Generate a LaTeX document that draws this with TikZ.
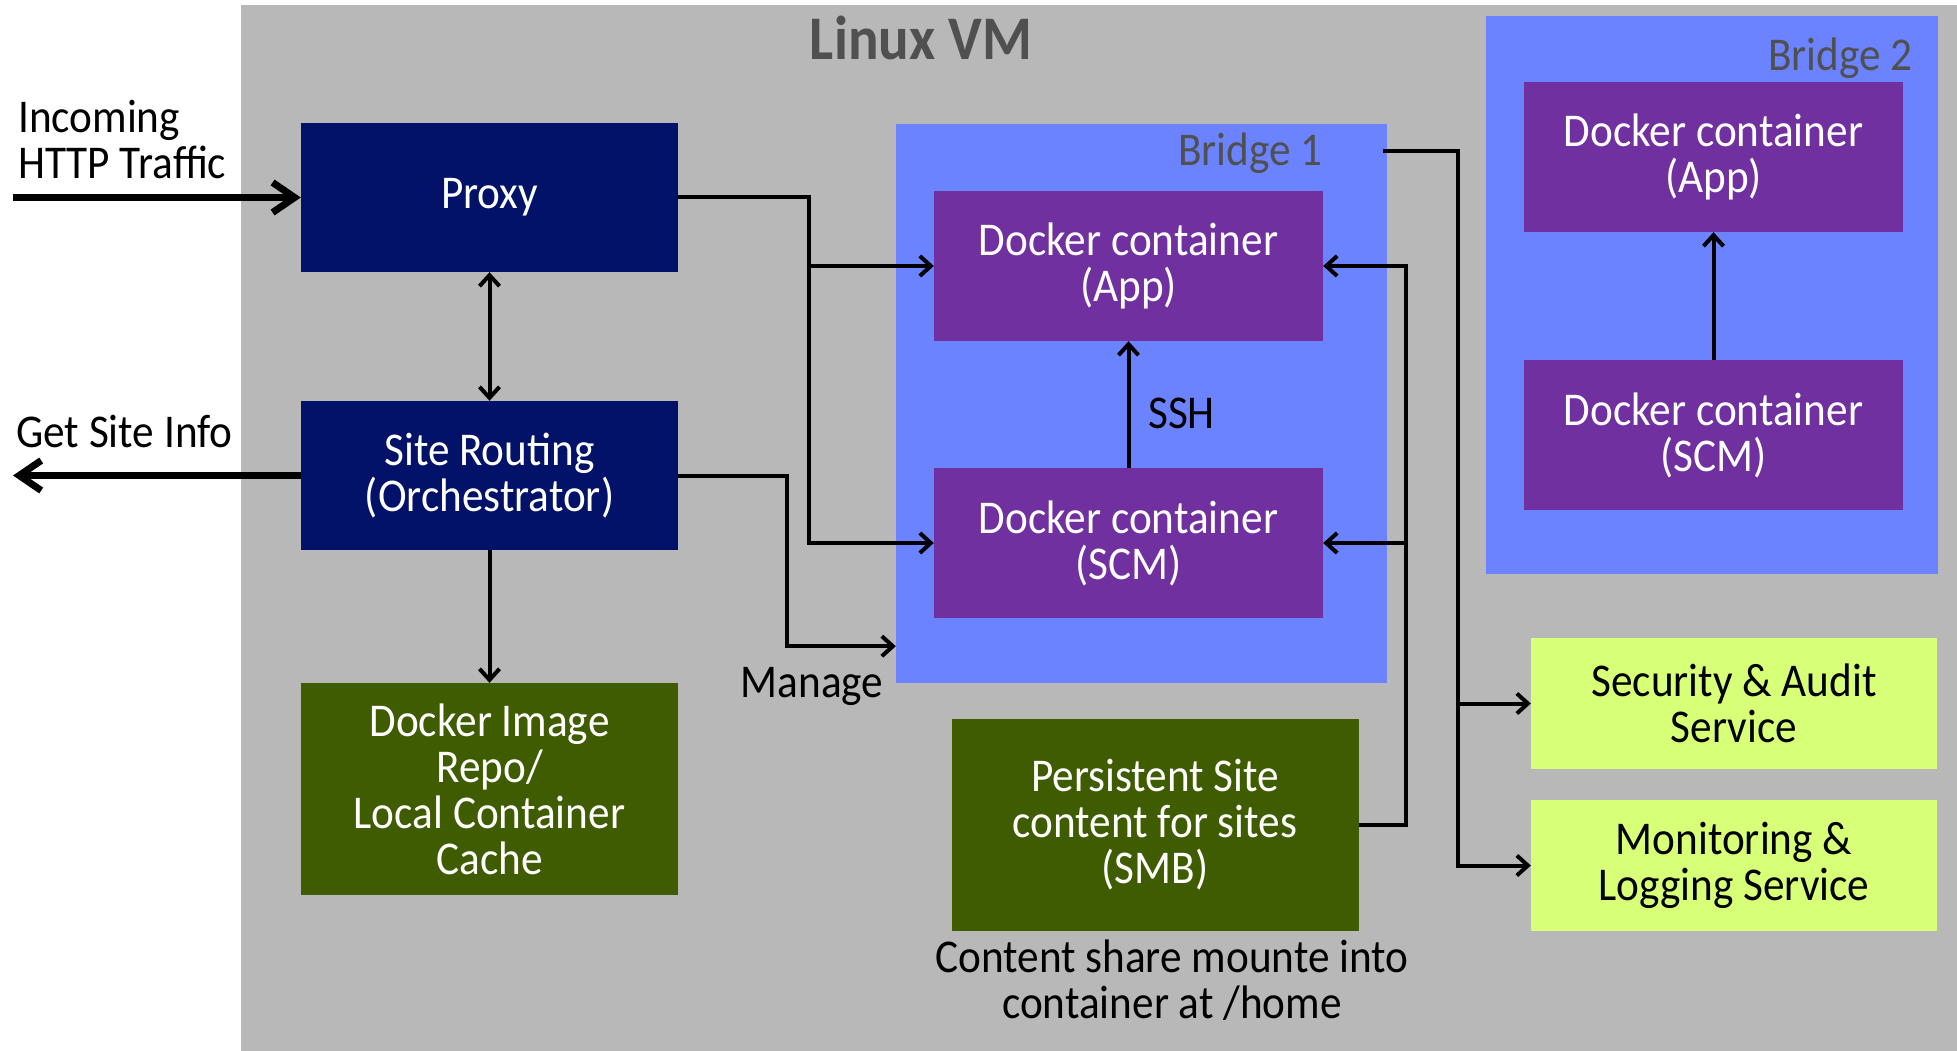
\documentclass[tikz,border=0pt]{standalone}
\usepackage{fontspec}
\setmainfont{Carlito}[FakeStretch=0.92]
\usetikzlibrary{arrows.meta,positioning}

\definecolor{vmgray}{HTML}{B8B8B8}
\definecolor{navy}{HTML}{011268}
\definecolor{bridgeblue}{HTML}{6C83FF}
\definecolor{dockpurple}{HTML}{7030A0}
\definecolor{darkgreen}{HTML}{405C00}
\definecolor{limegreen}{HTML}{D8FF78}
\definecolor{labelgray}{HTML}{505050}

\tikzset{
  blk/.style={inner sep=0pt, align=center},
  navybox/.style={blk, fill=navy, text=white, minimum width=377pt, minimum height=149pt},
  purplebox/.style={blk, fill=dockpurple, text=white, minimum width=389pt, minimum height=150pt},
  greenbox/.style={blk, fill=darkgreen, text=white},
  limebox/.style={blk, fill=limegreen, text=black, minimum width=406pt, minimum height=131pt},
  bridge/.style={fill=bridgeblue, inner sep=0pt},
  bridgelabel/.style={inner sep=0pt, text=labelgray},
  conn/.style={line width=4pt},
  thickarrow/.style={line width=7pt, -{Straight Barb[length=22pt,width=30pt]}}
}

\begin{document}
\begin{tikzpicture}[x=1pt,y=-1pt,>={Straight Barb[length=11pt,width=20pt]},
  font=\fontsize{47}{46}\selectfont]
\useasboundingbox (0,0) rectangle (1957,1051);
\fill[vmgray] (241,5) rectangle (1957,1051);
\node[font=\fontsize{62}{62}\selectfont\bfseries, text=labelgray] (title) at (921,38) {Linux VM};

% bridges
\node[bridge, minimum width=491pt, minimum height=559pt] (bridge1) at (1141.5,403.5) {};
\node[bridge, minimum width=452pt, minimum height=558pt] (bridge2) at (1712,295) {};
\node[bridgelabel, anchor=east] (b1label) at (1323,153) {Bridge 1};
\node[bridgelabel, anchor=east] (b2label) at (1913,58) {Bridge 2};

% boxes
\node[navybox] (proxy) at (489.5,197.5) {Proxy};
\node[navybox] (routing) at (489.5,475.5) {Site Routing\\(Orchestrator)};
\node[greenbox, minimum width=377pt, minimum height=212pt] (repo) at (489.5,789) {Docker Image\\Repo/\\Local Container\\Cache};
\node[purplebox] (app1) at (1128.5,266) {Docker container\\(App)};
\node[purplebox] (scm1) at (1128.5,543) {Docker container\\(SCM)};
\node[purplebox, minimum width=379pt] (app2) at (1713.5,157) {Docker container\\(App)};
\node[purplebox, minimum width=379pt] (scm2) at (1713.5,435) {Docker container\\(SCM)};
\node[greenbox, minimum width=407pt, minimum height=212pt] (share) at (1155,825) {Persistent Site\\content for sites\\(SMB)};
\node[limebox] (audit) at (1734,703.5) {Security \& Audit\\Service};
\node[limebox] (logging) at (1734,865.5) {Monitoring \&\\Logging Service};

% free text
\node[anchor=west, align=left, inner sep=0pt] (incoming) at (18,140) {Incoming\\HTTP Traffic};
\node[anchor=west, inner sep=0pt] (siteinfo) at (16,432) {Get Site Info};
\node (manage) at (812,686) {Manage};
\node[anchor=west, inner sep=0pt] (ssh) at (1148,413) {SSH};
\node[align=center] (caption) at (1172,980) {Content share mounte into\\container at /home};

% connectors
\coordinate (src) at (13,197.5);
\coordinate (out) at (13,475.5);
\draw[thickarrow] (src) -- (proxy.west);
\draw[thickarrow] (routing.west) -- (out);
\draw[conn,<->] (proxy) -- (routing);
\draw[conn,->] (routing) -- (repo);
\coordinate (px) at (809,197.5);
\draw[conn,->] (proxy.east) -- (px) |- (scm1.west);
\draw[conn,->] (px |- app1.west) -- (app1.west);
\coordinate (rx) at (787,475.5);
\draw[conn,->] (routing.east) -- (rx) |- ([yshift=37pt]bridge1.south west);
\coordinate (sx) at (1406,825);
\draw[conn,->] (share.east) -- (sx) |- (app1.east);
\draw[conn,->] (sx |- scm1.east) -- (scm1.east);
\coordinate (b1out) at (1383,151);
\coordinate (bx) at (1458,151);
\draw[conn,->] (b1out) -- (bx) |- (logging.west);
\draw[conn,->] (bx |- audit.west) -- (audit.west);
\draw[conn,->] (scm1) -- (app1);
\draw[conn,->] (scm2) -- (app2);
\end{tikzpicture}
\end{document}
